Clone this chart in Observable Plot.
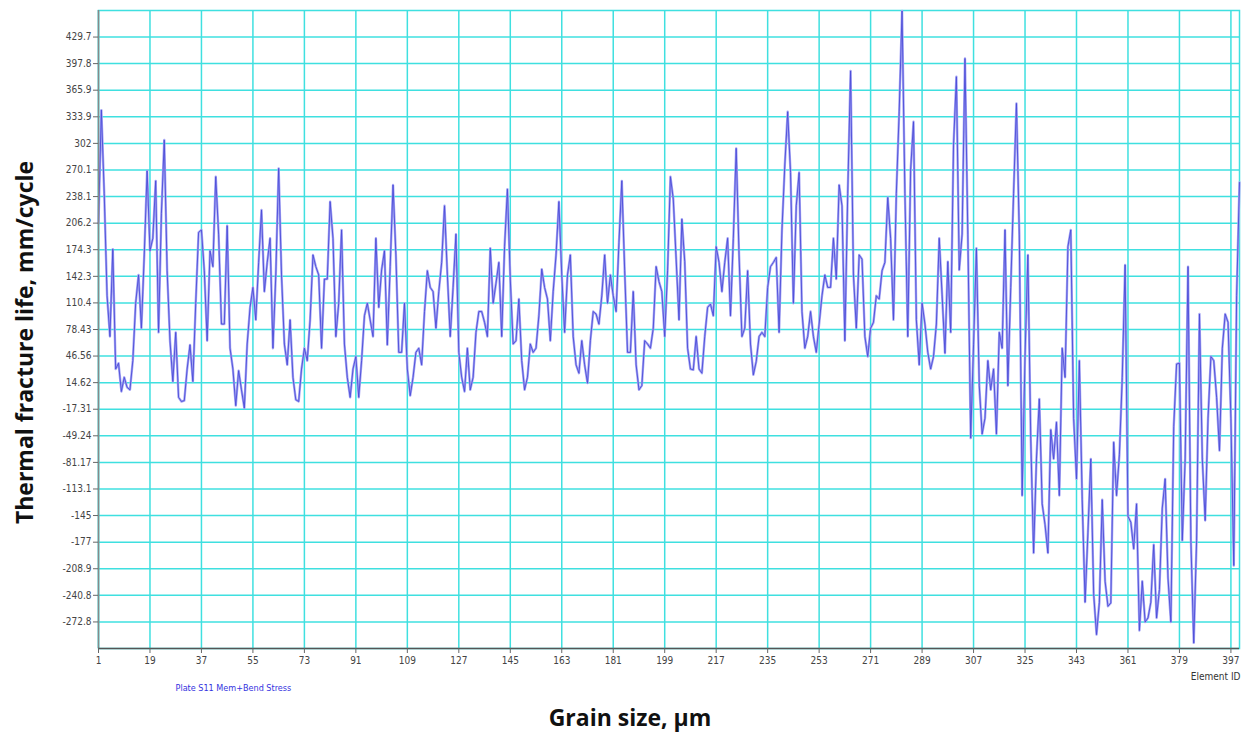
<!DOCTYPE html>
<html><head><meta charset="utf-8">
<script src="https://cdn.jsdelivr.net/npm/d3@7"></script>
<script src="https://cdn.jsdelivr.net/npm/@observablehq/plot@0.6"></script>
<style>body{margin:0;background:#fff;}</style>
</head><body><div id="chart"></div>
<script>
// Stress value per Element ID (1..400)
const stress = [
206,342,242,119,70,175,31,38,4,21,9,6,41,110,144,80,168,269,173,188,
257,75,218,306,149,65,16,75,-3,-8,-7,31,60,16,110,195,198,149,65,173,
154,262,193,85,85,203,56,31,-13,29,6,-16,61,105,129,90,159,222,124,159,
188,56,144,272,144,61,36,90,21,-6,-8,31,56,41,90,168,154,144,56,139,
139,232,188,70,110,198,61,21,-3,31,46,-3,41,95,110,90,70,188,105,150,
173,60,154,252,168,51,51,110,31,-1,21,51,56,36,100,149,129,124,80,124,
159,227,144,70,129,193,51,21,4,56,6,21,75,100,100,87,70,176,110,134,
159,70,178,247,139,61,65,115,41,6,21,61,51,56,95,151,129,115,65,124,
168,232,144,75,144,168,70,36,26,65,36,14,65,100,97,85,119,168,110,144,
119,100,183,257,149,51,51,124,36,6,11,65,61,56,80,154,136,124,70,149,
262,235,163,90,211,160,56,31,30,70,31,26,70,105,109,95,178,159,124,159,
188,95,188,296,168,70,80,149,61,24,40,70,75,70,129,154,159,165,75,198,
276,340,267,110,227,267,100,56,70,100,70,51,85,119,144,129,129,188,139,252,
227,65,242,389,144,80,168,163,70,46,80,87,119,115,149,159,237,188,90,242,
340,461,242,70,270,328,90,36,110,85,51,31,46,85,188,120,50,160,75,300,
382,150,193,404,193,-52,60,176,11,-47,-28,41,6,31,-47,75,56,198,11,129,
242,350,193,-121,46,168,-52,-190,-77,-5,-131,-156,-190,-42,-77,-33,-121,56,21,178,
198,-28,-101,41,-126,-249,-165,-77,-239,-288,-249,-126,-224,-254,-250,-57,-121,-72,21,156,
-146,-153,-185,-131,-283,-224,-273,-268,-249,-180,-268,-234,-136,-101,-220,-273,-38,37,38,-175,
-77,154,-175,-298,-175,97,-77,-151,-28,46,41,-3,-67,56,97,87,-28,-205,119,255
];
const xTicks = [1,19,37,55,73,91,109,127,145,163,181,199,217,235,253,271,289,307,325,343,361,379,397];
const yTicks = [429.7,397.8,365.9,333.9,302,270.1,238.1,206.2,174.3,142.3,110.4,78.43,46.56,14.62,-17.31,-49.24,-81.17,-113.1,-145,-177,-208.9,-240.8,-272.8];
const xDomain = [1, 400];
const yDomain = [-304.7, 461.6];
const yTitle = "Thermal fracture life, mm/cycle";
const xTitle = "Grain size, µm";
const seriesName = "Plate S11 Mem+Bend Stress";
const xAxisName = "Element ID";

const data = stress.map((v, i) => ({id: i + 1, v}));
const grid = "#3fe0e0";
const narrow = "'Liberation Sans Narrow','DejaVu Sans Condensed','Arial Narrow',sans-serif";

const chart = Plot.plot({
  width: 1244, height: 732,
  marginLeft: 98, marginTop: 10, marginRight: 5, marginBottom: 84,
  style: {fontFamily: narrow, fontSize: "10px", color: "#444", background: "#fff"},
  x: {domain: xDomain},
  y: {domain: yDomain},
  marks: [
    Plot.gridX(xTicks, {stroke: grid, strokeOpacity: 1, strokeWidth: 1.5}),
    Plot.gridY(yTicks, {stroke: grid, strokeOpacity: 1, strokeWidth: 1.5}),
    Plot.frame({stroke: grid, strokeWidth: 1.5}),
    Plot.line(data, {x: "id", y: "v", stroke: "#a6a6f4", strokeWidth: 2.4}),
    Plot.line(data, {x: "id", y: "v", stroke: "#4c4cd8", strokeWidth: 0.9}),
    Plot.ruleX([xDomain[0]], {stroke: "#888", strokeWidth: 1.5}),
    Plot.ruleY([yDomain[0]], {stroke: "#555", strokeWidth: 1.5}),
    Plot.axisX(xTicks, {tickSize: 5, tickPadding: 3, label: null, stroke: "#666", fill: "#444", tickFormat: d => String(d)}),
    Plot.axisY(yTicks, {tickSize: 5, tickPadding: 2, label: null, stroke: "#666", fill: "#444", tickFormat: d => String(d)}),
    Plot.text([yTitle], {frameAnchor: "left", rotate: -90, dx: -73, dy: 13, textAnchor: "middle", lineAnchor: "middle",
      fontSize: 23, fontWeight: "bold", fontFamily: "'Open Sans',sans-serif", fill: "#111"}),
    Plot.text([xTitle], {frameAnchor: "bottom", dx: -39, dy: 70, textAnchor: "middle", lineAnchor: "middle",
      fontSize: 23, fontWeight: "bold", fontFamily: "'Open Sans',sans-serif", fill: "#111"}),
    Plot.text([seriesName], {frameAnchor: "bottom-left", dx: 77, dy: 40, textAnchor: "start", lineAnchor: "middle",
      fontSize: 9, fill: "#3434e0"}),
    Plot.text([xAxisName], {frameAnchor: "bottom-right", dx: 1, dy: 28, textAnchor: "end", lineAnchor: "middle",
      fontSize: 10, fill: "#333"})
  ]
});
document.getElementById("chart").append(chart);
</script>
</body></html>
